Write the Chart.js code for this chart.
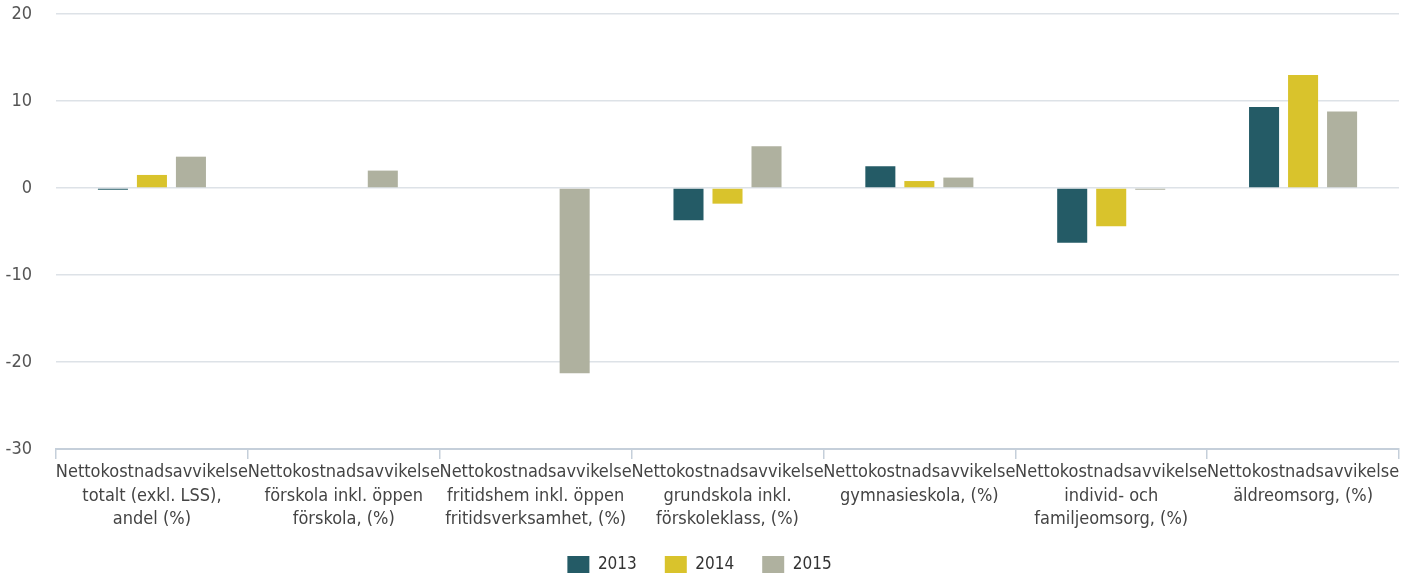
<!DOCTYPE html>
<html><head><meta charset="utf-8">
<script src="https://cdn.jsdelivr.net/npm/chart.js@4/dist/chart.umd.min.js"></script>
<style>html,body{margin:0;padding:0;background:#fff}#wrap{width:1413px;height:576px;position:relative}</style>
</head><body><div id="wrap"><canvas id="c"></canvas></div>
<script>
const categories = [
  ["Nettokostnadsavvikelse","totalt (exkl. LSS),","andel (%)"],
  ["Nettokostnadsavvikelse","förskola inkl. öppen","förskola, (%)"],
  ["Nettokostnadsavvikelse","fritidshem inkl. öppen","fritidsverksamhet, (%)"],
  ["Nettokostnadsavvikelse","grundskola inkl.","förskoleklass, (%)"],
  ["Nettokostnadsavvikelse","gymnasieskola, (%)"],
  ["Nettokostnadsavvikelse","individ- och","familjeomsorg, (%)"],
  ["Nettokostnadsavvikelse","äldreomsorg, (%)"]
];
const seriesNames = ["2013","2014","2015"];
const values2013 = [-0.2, null, null, -3.7, 2.5, -6.3, 9.3];
const values2014 = [1.5, null, null, -1.8, 0.8, -4.4, 13.0];
const values2015 = [3.6, 2.0, -21.3, 4.8, 1.2, -0.2, 8.8];
const yTicks = [-30, -20, -10, 0, 10, 20];
const colors = ["#245b66", "#d9c32c", "#afb19f"];

const font = "'DejaVu Sans Condensed','Liberation Sans Narrow','DejaVu Sans',sans-serif";
new Chart(document.getElementById('c'), {
  type: 'bar',
  data: {
    labels: categories,
    datasets: [values2013, values2014, values2015].map((v, i) => ({
      label: seriesNames[i], data: v, backgroundColor: colors[i],
      categoryPercentage: 0.61, barPercentage: 0.77
    }))
  },
  options: {
    responsive: true, maintainAspectRatio: false, animation: false,
    layout: { padding: { top: 14, right: 14, left: 0, bottom: -7 } },
    plugins: {
      tooltip: { enabled: false },
      legend: {
        position: 'bottom',
        labels: { boxWidth: 22, boxHeight: 17, padding: 28, color: '#333', font: { family: font, size: 17 } }
      }
    },
    scales: {
      y: {
        min: -30, max: 20,
        afterBuildTicks: s => { s.ticks = yTicks.map(v => ({ value: v })); },
        afterFit: s => { s.width = 56; s.paddingTop = 0; s.paddingBottom = 0; },
        border: { display: false },
        grid: { color: '#dde2e7', lineWidth: 1.5, drawTicks: false },
        ticks: { padding: 24, color: '#555', font: { family: font, size: 18 } }
      },
      x: {
        afterFit: s => { s.height = 79; },
        border: { display: true, color: '#c5cfda', width: 2 },
        grid: { display: true, drawOnChartArea: false, tickLength: 10, color: '#c5cfda', lineWidth: 1.5 },
        ticks: { maxRotation: 0, minRotation: 0, autoSkip: false, padding: 2, color: '#444', font: { family: font, size: 18, lineHeight: 1.3 } }
      }
    }
  }
});
</script></body></html>
